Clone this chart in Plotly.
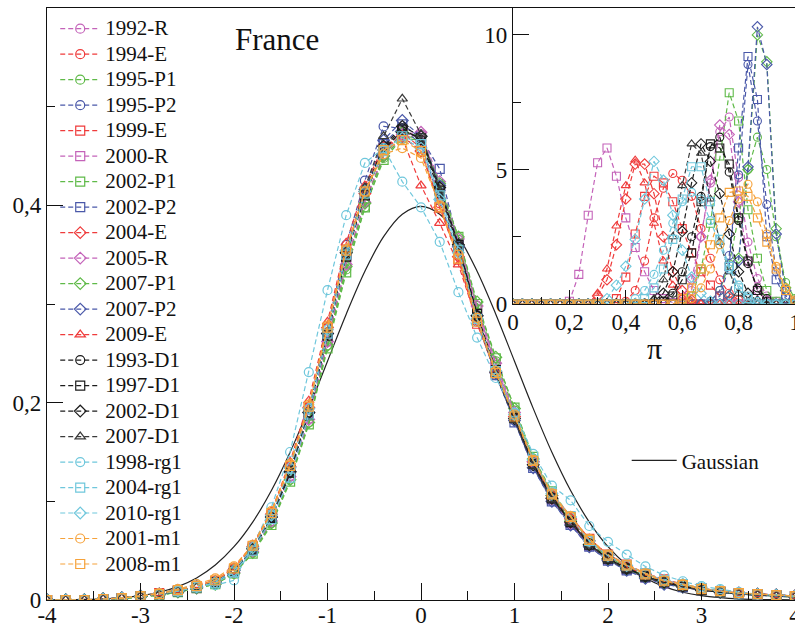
import plotly.graph_objects as go

# ---------------- data: main panel (distribution of u) ----------------
u = [-4.0, -3.8, -3.6, -3.4, -3.2, -3.0, -2.8, -2.6, -2.4, -2.2, -2.0, -1.8, -1.6, -1.4, -1.2,
     -1.0, -0.8, -0.6, -0.4, -0.2, 0.0, 0.2, 0.4, 0.6, 0.8, 1.0, 1.2, 1.4, 1.6, 1.8, 2.0,
     2.2, 2.4, 2.6, 2.8, 3.0, 3.2, 3.4, 3.6, 3.8, 4.0]

gauss = [0.0001, 0.0003, 0.0006, 0.0012, 0.0024, 0.0044, 0.0079, 0.0136, 0.0224, 0.0355, 0.0540,
         0.0790, 0.1109, 0.1497, 0.1942, 0.2420, 0.2897, 0.3332, 0.3683, 0.3910, 0.3989, 0.3910,
         0.3683, 0.3332, 0.2897, 0.2420, 0.1942, 0.1497, 0.1109, 0.0790, 0.0540, 0.0355, 0.0224,
         0.0136, 0.0079, 0.0044, 0.0024, 0.0012, 0.0006, 0.0003, 0.0001]

m_1992R = [0,0,0,0.001,0.002,0.004,0.006,0.009,0.013,0.017,0.028,0.050,0.082,0.128,0.186,0.262,0.340,0.405,0.450,0.468,0.472,0.420,0.362,0.295,0.238,0.188,0.140,0.104,0.080,0.057,0.042,0.032,0.024,0.018,0.014,0.011,0.009,0.007,0.006,0.005,0.004]
m_1994E = [0,0,0,0.001,0.002,0.004,0.006,0.010,0.014,0.019,0.032,0.055,0.088,0.136,0.196,0.276,0.355,0.415,0.458,0.470,0.455,0.402,0.350,0.284,0.230,0.185,0.140,0.106,0.082,0.060,0.044,0.034,0.026,0.019,0.015,0.011,0.009,0.007,0.006,0.005,0.004]
m_1995P1 = [0,0,0,0.001,0.002,0.003,0.005,0.008,0.012,0.016,0.027,0.048,0.078,0.122,0.180,0.258,0.335,0.398,0.448,0.470,0.468,0.418,0.365,0.298,0.242,0.192,0.143,0.108,0.083,0.058,0.043,0.032,0.024,0.017,0.014,0.010,0.008,0.006,0.005,0.004,0.003]
m_1995P2 = [0,0,0,0.001,0.002,0.004,0.006,0.009,0.013,0.018,0.030,0.052,0.085,0.132,0.194,0.276,0.360,0.425,0.480,0.478,0.462,0.405,0.350,0.282,0.228,0.182,0.136,0.102,0.078,0.055,0.041,0.031,0.023,0.017,0.014,0.010,0.008,0.007,0.006,0.005,0.004]
m_1999E = [0,0,0,0.001,0.002,0.004,0.007,0.010,0.014,0.019,0.031,0.054,0.086,0.134,0.195,0.275,0.352,0.412,0.458,0.474,0.458,0.398,0.345,0.280,0.230,0.186,0.140,0.107,0.084,0.062,0.046,0.036,0.027,0.021,0.016,0.012,0.009,0.007,0.006,0.005,0.004]
m_2000R = [0,0,0,0.001,0.002,0.004,0.006,0.009,0.012,0.017,0.028,0.050,0.080,0.126,0.184,0.262,0.342,0.404,0.452,0.474,0.470,0.418,0.362,0.294,0.236,0.188,0.138,0.102,0.078,0.055,0.041,0.031,0.023,0.017,0.014,0.010,0.008,0.007,0.006,0.005,0.004]
m_2002P1 = [0,0,0,0.001,0.001,0.003,0.005,0.008,0.012,0.016,0.027,0.047,0.076,0.120,0.178,0.255,0.332,0.398,0.446,0.468,0.466,0.420,0.368,0.300,0.245,0.195,0.145,0.110,0.084,0.060,0.044,0.033,0.024,0.018,0.014,0.010,0.008,0.006,0.005,0.004,0.003]
m_2002P2 = [0,0,0,0.001,0.002,0.004,0.006,0.009,0.013,0.018,0.030,0.052,0.084,0.130,0.190,0.270,0.350,0.412,0.462,0.482,0.468,0.437,0.360,0.285,0.228,0.180,0.134,0.100,0.076,0.054,0.040,0.030,0.023,0.017,0.013,0.010,0.008,0.006,0.005,0.004,0.004]
m_2004E = [0,0,0,0.001,0.002,0.004,0.006,0.010,0.014,0.019,0.031,0.054,0.087,0.135,0.195,0.276,0.354,0.412,0.456,0.470,0.455,0.398,0.348,0.284,0.231,0.186,0.140,0.106,0.082,0.060,0.045,0.034,0.026,0.019,0.015,0.011,0.009,0.007,0.006,0.005,0.004]
m_2005R = [0,0,0,0.001,0.002,0.003,0.006,0.009,0.012,0.017,0.028,0.049,0.080,0.125,0.183,0.262,0.340,0.403,0.450,0.472,0.474,0.424,0.366,0.298,0.240,0.190,0.140,0.103,0.078,0.055,0.041,0.031,0.023,0.017,0.013,0.010,0.008,0.007,0.006,0.005,0.004]
m_2007P1 = [0,0,0,0.001,0.001,0.003,0.005,0.008,0.012,0.016,0.027,0.048,0.078,0.122,0.180,0.258,0.338,0.402,0.450,0.474,0.470,0.422,0.368,0.302,0.246,0.194,0.143,0.106,0.080,0.056,0.041,0.031,0.023,0.017,0.013,0.010,0.008,0.006,0.005,0.004,0.003]
m_2007P2 = [0,0,0,0.001,0.002,0.004,0.006,0.009,0.013,0.018,0.030,0.052,0.084,0.130,0.190,0.270,0.352,0.416,0.466,0.486,0.470,0.420,0.358,0.288,0.230,0.182,0.134,0.100,0.076,0.054,0.040,0.030,0.022,0.016,0.013,0.010,0.008,0.006,0.005,0.004,0.003]
m_2009E = [0,0,0,0.001,0.002,0.004,0.007,0.010,0.015,0.020,0.033,0.056,0.090,0.140,0.202,0.282,0.362,0.420,0.460,0.468,0.420,0.382,0.340,0.282,0.230,0.186,0.142,0.108,0.085,0.062,0.046,0.035,0.027,0.020,0.016,0.012,0.009,0.007,0.006,0.005,0.004]
m_1993D1 = [0,0,0,0.001,0.002,0.004,0.006,0.009,0.013,0.018,0.029,0.051,0.083,0.129,0.190,0.270,0.350,0.412,0.458,0.478,0.466,0.412,0.358,0.288,0.232,0.185,0.138,0.104,0.080,0.057,0.042,0.032,0.024,0.018,0.014,0.011,0.008,0.007,0.006,0.005,0.004]
m_1997D1 = [0,0,0,0.001,0.002,0.004,0.006,0.009,0.013,0.018,0.029,0.051,0.083,0.129,0.188,0.268,0.348,0.410,0.456,0.476,0.468,0.415,0.360,0.290,0.233,0.186,0.138,0.103,0.079,0.056,0.042,0.032,0.024,0.018,0.014,0.010,0.008,0.007,0.006,0.005,0.004]
m_2002D1 = [0,0,0,0.001,0.002,0.004,0.006,0.009,0.013,0.018,0.030,0.052,0.084,0.130,0.190,0.270,0.352,0.414,0.460,0.480,0.470,0.418,0.360,0.288,0.231,0.184,0.137,0.103,0.079,0.056,0.042,0.032,0.024,0.018,0.014,0.010,0.008,0.007,0.006,0.005,0.004]
m_2007D1 = [0,0,0,0.001,0.002,0.004,0.006,0.009,0.013,0.018,0.030,0.052,0.084,0.131,0.192,0.272,0.354,0.418,0.470,0.508,0.472,0.415,0.356,0.285,0.229,0.182,0.136,0.102,0.078,0.056,0.041,0.031,0.023,0.017,0.013,0.010,0.008,0.006,0.005,0.004,0.003]
m_1998rg1 = [0,0,0,0.001,0.002,0.004,0.007,0.011,0.016,0.015,0.020,0.055,0.094,0.150,0.231,0.314,0.390,0.443,0.458,0.424,0.398,0.363,0.312,0.266,0.225,0.190,0.148,0.116,0.101,0.075,0.059,0.046,0.034,0.025,0.019,0.014,0.011,0.008,0.006,0.005,0.004]
m_2004rg1 = [0,0,0,0.001,0.002,0.004,0.006,0.009,0.013,0.017,0.028,0.050,0.082,0.124,0.188,0.270,0.350,0.412,0.455,0.470,0.462,0.410,0.355,0.285,0.232,0.188,0.142,0.108,0.085,0.060,0.045,0.035,0.027,0.020,0.016,0.012,0.009,0.007,0.006,0.005,0.004]
m_2010rg1 = [0,0,0,0.001,0.002,0.004,0.006,0.009,0.013,0.018,0.030,0.053,0.086,0.134,0.194,0.274,0.354,0.414,0.456,0.468,0.458,0.406,0.352,0.285,0.232,0.188,0.142,0.108,0.084,0.060,0.045,0.035,0.027,0.020,0.016,0.012,0.009,0.007,0.006,0.005,0.004]
m_2001m1 = [0,0,0,0.001,0.002,0.004,0.007,0.011,0.016,0.022,0.034,0.056,0.090,0.138,0.198,0.278,0.356,0.414,0.452,0.458,0.448,0.400,0.350,0.286,0.232,0.188,0.142,0.108,0.085,0.062,0.046,0.036,0.027,0.020,0.016,0.012,0.009,0.007,0.006,0.005,0.004]
m_2008m1 = [0,0,0,0.001,0.002,0.004,0.006,0.010,0.014,0.020,0.032,0.055,0.088,0.136,0.196,0.276,0.354,0.414,0.456,0.466,0.455,0.398,0.346,0.282,0.230,0.186,0.141,0.107,0.084,0.061,0.045,0.035,0.026,0.019,0.015,0.011,0.009,0.007,0.006,0.005,0.004]

# ---------------- data: inset (distribution of pi) ----------------
p = [0.0, 0.0333, 0.0667, 0.1, 0.1333, 0.1667, 0.2, 0.2333, 0.2667, 0.3, 0.3333, 0.3667, 0.4,
     0.4333, 0.4667, 0.5, 0.5333, 0.5667, 0.6, 0.6333, 0.6667, 0.7, 0.7333, 0.7667, 0.8,
     0.8333, 0.8667, 0.9, 0.9333, 0.9667, 1.0]

i_1992R = [0,0,0,0,0,0,0,0,0,0,0,0,0,0,0,0,0,0,0.1,0.5,2.5,4.5,6.4,6.95,4.7,2.3,0.95,0.3,0.1,0,0]
i_1994E = [0,0,0,0,0,0,0,0,0,0,0,0,0.1,0.5,1.6,3.2,4.3,4.85,4.6,4.0,2.8,1.7,0.9,0.4,0.15,0,0,0,0,0,0]
i_1995P1 = [0,0,0,0,0,0,0,0,0,0,0,0,0,0,0,0,0,0,0,0,0,0.1,0.5,1.5,3.2,5.0,6.2,5.0,2.5,0.8,0.2]
i_1995P2 = [0,0,0,0,0,0,0,0,0,0,0,0,0,0,0,0,0,0,0,0,0,0.1,0.5,1.8,4.8,8.9,6.8,3.7,1.2,0.3,0.05]
i_1999E = [0,0,0,0,0,0,0,0,0,0,0,0.2,1.0,2.6,4.0,4.75,4.5,3.8,2.8,1.9,1.2,0.7,0.3,0.1,0,0,0,0,0,0,0]
i_2000R = [0,0,0,0,0,0,0.1,1.1,3.3,5.25,5.8,4.75,3.2,2.1,1.2,0.5,0.2,0.05,0,0,0,0,0,0,0,0,0,0,0,0,0]
i_2002P1 = [0,0,0,0,0,0,0,0,0,0,0,0,0,0,0,0,0,0,0,0.3,1.3,3.0,5.5,7.85,6.8,3.5,1.7,0.5,0.1,0,0]
i_2002P2 = [0,0,0,0,0,0,0,0,0,0,0,0,0,0,0,0,0,0,0,0,0,0,0.3,1.4,5.8,9.2,7.6,2.5,0.9,0.2,0]
i_2004E = [0,0,0,0,0,0,0,0,0,0.3,0.9,2.2,3.9,5.2,5.2,4.1,2.5,1.2,0.5,0.15,0,0,0,0,0,0,0,0,0,0,0]
i_2005R = [0,0,0,0,0,0,0,0,0,0,0,0,0,0,0,0,0,0,0.2,0.9,2.5,4.6,6.65,6.3,3.8,1.6,0.5,0.1,0,0,0]
i_2007P1 = [0,0,0,0,0,0,0,0,0,0,0,0,0,0,0,0,0,0,0,0,0,0,0,0.3,1.7,5.0,10.0,9.0,2.8,0.6,0.1]
i_2007P2 = [0,0,0,0,0,0,0,0,0,0,0,0,0,0,0,0,0,0,0,0,0,0,0,0.3,1.6,5.1,10.3,8.9,2.6,0.5,0.1]
i_2009E = [0,0,0,0,0,0,0,0,0,0.4,1.3,2.9,4.4,5.35,4.5,3.0,1.6,0.7,0.25,0.1,0,0,0,0,0,0,0,0,0,0,0]
i_1993D1 = [0,0,0,0,0,0,0,0,0,0,0,0,0,0,0,0,0.1,0.4,1.2,2.5,4.0,5.85,6.2,4.9,3.1,1.5,0.6,0.2,0,0,0]
i_1997D1 = [0,0,0,0,0,0,0,0,0,0,0,0,0,0,0,0,0.1,0.3,0.9,1.9,3.8,5.95,5.8,5.2,3.2,1.6,0.5,0.1,0,0,0]
i_2002D1 = [0,0,0,0,0,0,0,0,0,0,0,0,0,0,0,0.1,0.4,1.2,2.7,4.5,5.95,5.3,4.1,2.6,1.2,0.4,0.1,0,0,0,0]
i_2007D1 = [0,0,0,0,0,0,0,0,0,0,0,0,0,0,0,0.2,0.9,2.5,4.4,5.95,5.6,3.9,2.3,1.2,0.4,0.1,0,0,0,0,0]
i_1998rg1 = [0,0,0,0,0,0,0,0,0,0,0,0,0,0.2,0.5,1.1,2.0,3.0,3.8,4.15,3.9,3.1,2.2,1.3,0.7,0.3,0.1,0,0,0,0]
i_2004rg1 = [0,0,0,0,0,0,0,0,0,0,0,0,0,0,0.2,0.6,1.3,2.4,3.9,5.1,5.1,3.8,2.4,1.4,0.6,0.2,0,0,0,0,0]
i_2010rg1 = [0,0,0,0,0,0,0,0,0,0,0.2,0.7,1.4,2.4,3.9,5.3,4.6,3.3,2.0,1.0,0.4,0.1,0,0,0,0,0,0,0,0,0]
i_2001m1 = [0,0,0,0,0,0,0,0,0,0,0,0,0,0,0,0,0,0,0,0.2,0.6,1.3,2.2,3.1,3.9,4.45,3.8,2.6,1.4,0.6,0.15]
i_2008m1 = [0,0,0,0,0,0,0,0,0,0,0,0,0,0,0,0,0,0,0.2,0.6,1.3,2.2,3.2,4.15,4.2,4.0,3.2,2.3,1.3,0.5,0.1]

names = ["1992-R", "1994-E", "1995-P1", "1995-P2", "1999-E", "2000-R", "2002-P1", "2002-P2",
         "2004-E", "2005-R", "2007-P1", "2007-P2", "2009-E", "1993-D1", "1997-D1", "2002-D1",
         "2007-D1", "1998-rg1", "2004-rg1", "2010-rg1", "2001-m1", "2008-m1"]
main_series = [m_1992R, m_1994E, m_1995P1, m_1995P2, m_1999E, m_2000R, m_2002P1, m_2002P2,
               m_2004E, m_2005R, m_2007P1, m_2007P2, m_2009E, m_1993D1, m_1997D1, m_2002D1,
               m_2007D1, m_1998rg1, m_2004rg1, m_2010rg1, m_2001m1, m_2008m1]
inset_series = [i_1992R, i_1994E, i_1995P1, i_1995P2, i_1999E, i_2000R, i_2002P1, i_2002P2,
                i_2004E, i_2005R, i_2007P1, i_2007P2, i_2009E, i_1993D1, i_1997D1, i_2002D1,
                i_2007D1, i_1998rg1, i_2004rg1, i_2010rg1, i_2001m1, i_2008m1]

# ---------------- styles ----------------
MAG, RED, GRN, BLU = "#c463b9", "#ef3b3b", "#5fba48", "#4a58a9"
BLK, GRY, CYN, ORG = "#1c1c1c", "#3a3a3a", "#6fc7dc", "#f6a23a"
colors = [MAG, RED, GRN, BLU, RED, MAG, GRN, BLU, RED, MAG, GRN, BLU, RED,
          BLK, BLK, BLK, GRY, CYN, CYN, CYN, ORG, ORG]
symbols = ["circle-open", "circle-open", "circle-open", "circle-open",
           "square-open", "square-open", "square-open", "square-open",
           "diamond-open", "diamond-open", "diamond-open", "diamond-open",
           "triangle-up-open",
           "circle-open", "square-open", "diamond-open", "triangle-up-open",
           "circle-open", "square-open", "diamond-open",
           "circle-open", "square-open"]

SERIF = "'Times New Roman', Times, 'Liberation Serif', 'DejaVu Serif', serif"
DASH = "5px,3px"
INK = "#111111"

fig = go.Figure()

fig.add_trace(go.Scatter(x=u, y=gauss, mode="lines", name="Gaussian",
                         line=dict(color="#222222", width=1.2, shape="spline"),
                         legend="legend2"))

for nm, ys, c, s in zip(names, main_series, colors, symbols):
    fig.add_trace(go.Scatter(
        x=u, y=ys, mode="lines+markers",
        name='<span style="font-size:21px">' + nm + '</span>',
        line=dict(color=c, width=1.2, dash=DASH),
        marker=dict(symbol=s, size=9, color=c, line=dict(width=1.2, color=c)),
    ))

for nm, ys, c, s in zip(names, inset_series, colors, symbols):
    fig.add_trace(go.Scatter(
        x=p, y=ys, mode="lines+markers", showlegend=False,
        xaxis="x2", yaxis="y2",
        line=dict(color=c, width=1.2, dash=DASH),
        marker=dict(symbol=s, size=8, color=c, line=dict(width=1.1, color=c)),
    ))

tickfont = dict(family=SERIF, size=23, color=INK)

fig.update_layout(
    width=795, height=636,
    margin=dict(l=47, r=0, t=8, b=36, autoexpand=False),
    paper_bgcolor="white", plot_bgcolor="white",
    font=dict(family=SERIF, color=INK),
    xaxis=dict(range=[-4, 4], tickvals=[-4, -3, -2, -1, 0, 1, 2, 3, 4],
               ticktext=["-4", "-3", "-2", "-1", "0", "1", "2", "3", "4"],
               ticks="inside", ticklen=17, tickwidth=1, tickcolor=INK,
               ticklabeloverflow="allow", automargin=False, ticklabelstandoff=-6,
               minor=dict(tickvals=[-3.5, -2.5, -1.5, -0.5, 0.5, 1.5, 2.5, 3.5],
                          ticks="inside", ticklen=9, tickcolor=INK, tickwidth=1),
               showline=True, linecolor=INK, linewidth=1.3, mirror=True,
               showgrid=False, zeroline=False, tickfont=tickfont),
    yaxis=dict(range=[0, 0.6], tickvals=[0, 0.2, 0.4], ticktext=["0", "0,2", "0,4"],
               ticks="inside", ticklen=16, tickwidth=1, tickcolor=INK, automargin=False,
               minor=dict(tickvals=[0.1, 0.3, 0.5], ticks="inside", ticklen=8,
                          tickcolor=INK, tickwidth=1),
               showline=True, linecolor=INK, linewidth=1.3,
               showgrid=False, zeroline=False, tickfont=tickfont),
    xaxis2=dict(domain=[0.623, 1.0], anchor="y2", range=[0, 1],
                tickvals=[0, 0.2, 0.4, 0.6, 0.8, 1.0],
                ticktext=["0", "0,2", "0,4", "0,6", "0,8", "1"],
                ticks="inside", ticklen=14, tickwidth=1, tickcolor=INK,
                ticklabeloverflow="allow", automargin=False, ticklabelstandoff=-3,
                minor=dict(tickvals=[0.1, 0.3, 0.5, 0.7, 0.9], ticks="inside", ticklen=7,
                           tickcolor=INK, tickwidth=1),
                showline=True, linecolor=INK, linewidth=1.3,
                showgrid=False, zeroline=False, tickfont=tickfont),
    yaxis2=dict(domain=[0.5, 1.0], anchor="x2", range=[0, 11],
                tickvals=[0, 5, 10], ticktext=["0", "5", "10"],
                ticks="inside", ticklen=16, tickwidth=1, tickcolor=INK, automargin=False,
                minor=dict(tickvals=[2.5, 7.5], ticks="inside", ticklen=8,
                           tickcolor=INK, tickwidth=1),
                showline=True, linecolor=INK, linewidth=1.3,
                showgrid=False, zeroline=False, tickfont=tickfont),
    legend=dict(x=0.011, y=0.995, xanchor="left", yanchor="top",
                font=dict(family=SERIF, size=17.3, color=INK),
                bgcolor="rgba(0,0,0,0)", borderwidth=0, itemwidth=40,
                tracegroupgap=0, traceorder="normal"),
    legend2=dict(x=0.775, y=0.27, xanchor="left", yanchor="top",
                 font=dict(family=SERIF, size=21, color=INK),
                 bgcolor="rgba(0,0,0,0)", borderwidth=0, itemwidth=45),
    showlegend=True,
    annotations=[
        dict(text="France", x=0.3075, y=0.946, xref="paper", yref="paper",
             xanchor="center", yanchor="middle",
             showarrow=False, font=dict(family=SERIF, size=31, color=INK)),
        dict(text="π", x=0.5, y=0.425, xref="x2", yref="paper",
             xanchor="center", yanchor="middle",
             showarrow=False, font=dict(family=SERIF, size=30, color=INK)),
        dict(text="u", x=0, y=-0.07, xref="x", yref="paper",
             xanchor="center", yanchor="middle",
             showarrow=False, font=dict(family=SERIF, size=26, color=INK)),
    ],
)

fig.write_html("out.html")
